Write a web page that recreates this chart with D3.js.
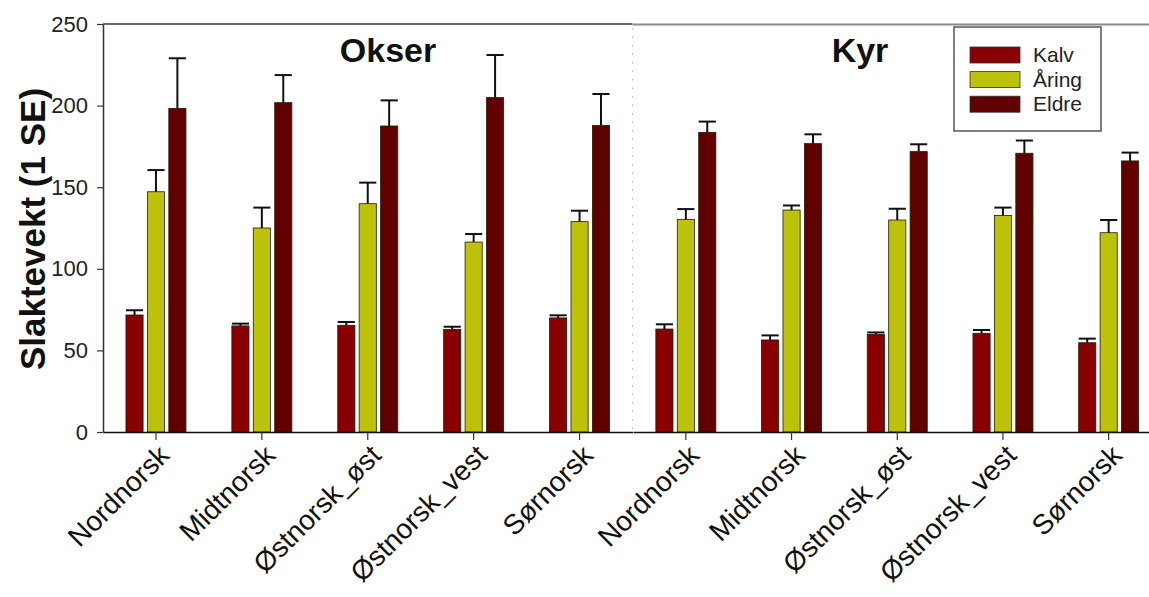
<!DOCTYPE html>
<html>
<head>
<meta charset="utf-8">
<script src="https://cdn.jsdelivr.net/npm/d3@7"></script>
<style>
  html, body { margin: 0; padding: 0; background: #fff; }
  svg { display: block; font-family: "Liberation Sans", Arial, sans-serif; }
</style>
</head>
<body>
<svg id="chart" width="1149" height="597"></svg>
<script>
// Slaughter weight by breed region, calves / yearlings / older animals, bulls vs cows
const categories = ["Nordnorsk", "Midtnorsk", "Østnorsk_øst", "Østnorsk_vest", "Sørnorsk"];
const series = ["Kalv", "Åring", "Eldre"];
const panels = ["Okser", "Kyr"];
const yTicks = [0, 50, 100, 150, 200, 250];

// Okser (bulls): mean weight and 1 SE
const okserKalv     = [71.7, 65.0, 65.4, 62.9, 69.9];
const okserKalvSE   = [2.9, 1.4, 2.0, 1.6, 1.6];
const okserAring    = [147.2, 125.0, 139.9, 116.4, 128.9];
const okserAringSE  = [13.3, 12.5, 12.9, 4.9, 6.7];
const okserEldre    = [198.3, 201.8, 187.5, 204.9, 187.9];
const okserEldreSE  = [30.7, 16.9, 15.7, 26.1, 19.2];

// Kyr (cows): mean weight and 1 SE
const kyrKalv       = [63.1, 56.4, 59.8, 60.5, 54.7];
const kyrKalvSE     = [2.9, 2.8, 1.2, 2.0, 2.5];
const kyrAring      = [130.3, 136.0, 129.9, 132.7, 122.1];
const kyrAringSE    = [6.3, 2.8, 6.9, 4.8, 7.8];
const kyrEldre      = [183.6, 176.7, 171.8, 170.8, 166.1];
const kyrEldreSE    = [6.6, 5.7, 4.5, 7.8, 5.1];

const colors = { "Kalv": "#880000", "Åring": "#bcc20a", "Eldre": "#600000" };

function rows(kalv, kalvSE, aring, aringSE, eldre, eldreSE) {
  return categories.map((c, i) => ({
    category: c,
    values: [
      { key: "Kalv", value: kalv[i], se: kalvSE[i] },
      { key: "Åring", value: aring[i], se: aringSE[i] },
      { key: "Eldre", value: eldre[i], se: eldreSE[i] }
    ]
  }));
}
const panelData = [
  { title: panels[0], data: rows(okserKalv, okserKalvSE, okserAring, okserAringSE, okserEldre, okserEldreSE) },
  { title: panels[1], data: rows(kyrKalv, kyrKalvSE, kyrAring, kyrAringSE, kyrEldre, kyrEldreSE) }
];

const svg = d3.select("#chart");
const plotTop = 24, plotBottom = 432;
const y = d3.scaleLinear().domain([0, 250]).range([plotBottom, plotTop]);

const panelRanges = [[103, 632.5], [633, 1161.5]];
const titleX = [388, 860];

// frame line along the top
svg.append("line")
  .attr("x1", 103).attr("x2", 632.5).attr("y1", plotTop).attr("y2", plotTop)
  .attr("stroke", "#6a6a6a").attr("stroke-width", 2);
svg.append("line")
  .attr("x1", 632.5).attr("x2", 1149).attr("y1", plotTop + 0.5).attr("y2", plotTop + 0.5)
  .attr("stroke", "#8a8a8a").attr("stroke-width", 2);

// dotted divider between panels
svg.append("line")
  .attr("x1", 632.5).attr("x2", 632.5).attr("y1", plotTop + 4).attr("y2", plotBottom)
  .attr("stroke", "#b0b0b0").attr("stroke-width", 1)
  .attr("stroke-dasharray", "1.5,7");

panelData.forEach((p, pi) => {
  const x0 = d3.scaleBand().domain(categories).range(panelRanges[pi]).padding(0);
  const x1 = d3.scaleBand().domain(series).range([-30, 30]).paddingInner(0.2).paddingOuter(0);
  const g = svg.append("g");

  const groups = g.selectAll("g.grp").data(p.data).join("g")
    .attr("class", "grp")
    .attr("transform", d => `translate(${x0(d.category) + x0.bandwidth() / 2},0)`);

  groups.selectAll("rect").data(d => d.values).join("rect")
    .attr("x", d => x1(d.key))
    .attr("y", d => y(d.value))
    .attr("width", x1.bandwidth())
    .attr("height", d => y(0) - y(d.value))
    .attr("fill", d => colors[d.key])
    .attr("stroke", "#2a1a00").attr("stroke-width", 0.8);

  // error bars (+1 SE)
  const eb = groups.selectAll("g.eb").data(d => d.values).join("g").attr("class", "eb");
  eb.append("line")
    .attr("x1", d => x1(d.key) + x1.bandwidth() / 2)
    .attr("x2", d => x1(d.key) + x1.bandwidth() / 2)
    .attr("y1", d => y(d.value))
    .attr("y2", d => y(d.value + d.se))
    .attr("stroke", "#111").attr("stroke-width", 2);
  eb.append("line")
    .attr("x1", d => x1(d.key))
    .attr("x2", d => x1(d.key) + x1.bandwidth())
    .attr("y1", d => y(d.value + d.se))
    .attr("y2", d => y(d.value + d.se))
    .attr("stroke", "#111").attr("stroke-width", 2);

  // x axis
  const xAxis = g.append("g").attr("transform", `translate(0,${plotBottom})`)
    .call(d3.axisBottom(x0).tickSize(8).tickSizeOuter(0));
  xAxis.select(".domain").attr("stroke", "#111").attr("stroke-width", 1.5);
  xAxis.selectAll(".tick line").attr("stroke", "#333").attr("stroke-width", 1.2);
  xAxis.selectAll(".tick text")
    .attr("font-size", 28)
    .attr("fill", "#111")
    .attr("text-anchor", "end")
    .attr("dy", 0)
    .attr("y", 0)
    .attr("transform", "translate(15,25) rotate(-45)");

  // panel title
  g.append("text")
    .attr("x", titleX[pi])
    .attr("y", 62)
    .attr("text-anchor", "middle")
    .attr("font-size", 34).attr("font-weight", "bold").attr("fill", "#111")
    .text(p.title);
});

// y axis
const yAxis = svg.append("g").attr("transform", "translate(103,0)")
  .call(d3.axisLeft(y).tickValues(yTicks).tickSize(6).tickSizeOuter(0).tickPadding(9));
yAxis.select(".domain").attr("stroke", "#333").attr("stroke-width", 1.5);
yAxis.selectAll(".tick line").attr("stroke", "#333").attr("stroke-width", 1.2);
yAxis.selectAll(".tick text").attr("font-size", 22).attr("fill", "#222");

svg.append("text")
  .attr("transform", "translate(45,229) rotate(-90)")
  .attr("text-anchor", "middle")
  .attr("font-size", 35).attr("font-weight", "bold").attr("fill", "#111")
  .text("Slaktevekt (1 SE)");

// legend
const legend = svg.append("g").attr("transform", "translate(954,27)");
legend.append("rect")
  .attr("width", 147).attr("height", 104)
  .attr("fill", "#fff").attr("stroke", "#555").attr("stroke-width", 1.5);
const li = legend.selectAll("g.li").data(series).join("g")
  .attr("class", "li")
  .attr("transform", (d, i) => `translate(16,${20 + i * 24.6})`);
li.append("rect")
  .attr("width", 50).attr("height", 16)
  .attr("fill", d => colors[d]).attr("stroke", "#333").attr("stroke-width", 0.8);
li.append("text")
  .attr("x", 63).attr("y", 15)
  .attr("font-size", 21).attr("fill", "#222")
  .text(d => d);
</script>
</body>
</html>
